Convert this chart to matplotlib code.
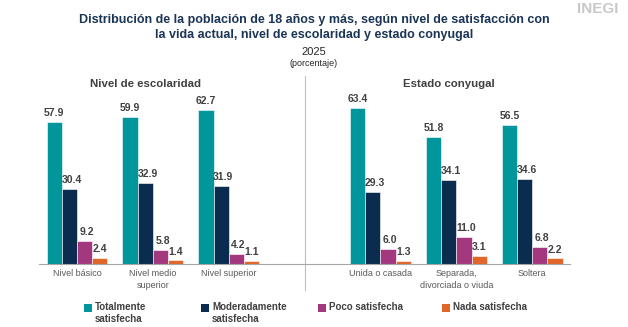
import numpy as np
import matplotlib
matplotlib.use("Agg")
import matplotlib.pyplot as plt
from matplotlib.patches import Rectangle

plt.rcParams['font.family'] = ['Liberation Sans', 'DejaVu Sans']

# data
categories = ["Nivel básico", "Nivel medio\nsuperior", "Nivel superior", "",
              "Unida o casada", "Separada,\ndivorciada o viuda", "Soltera"]
series_names = ["Totalmente\nsatisfecha", "Moderadamente\nsatisfecha",
                "Poco satisfecha", "Nada satisfecha"]
totalmente = [57.9, 59.9, 62.7, None, 63.4, 51.8, 56.5]
moderadamente = [30.4, 32.9, 31.9, None, 29.3, 34.1, 34.6]
poco = [9.2, 5.8, 4.2, None, 6.0, 11.0, 6.8]
nada = [2.4, 1.4, 1.1, None, 1.3, 3.1, 2.2]
panel_titles = ["Nivel de escolaridad", "Estado conyugal"]

colors = ["#00969B", "#0A2C4E", "#A3387F", "#E0662A"]
label_col = "#404040"

W, H = 628, 327
fig = plt.figure(figsize=(W / 100, H / 100), dpi=100)
ax = fig.add_axes([0.062, 0.193, 0.846, 0.526])

x = np.arange(len(categories))
w = 0.2
for i, vals in enumerate([totalmente, moderadamente, poco, nada]):
    xs = [xi for xi, v in zip(x, vals) if v is not None]
    vs = [v for v in vals if v is not None]
    pos = np.array(xs) + (i - 1.5) * w
    ax.bar(pos, vs, width=w, color=colors[i], edgecolor="white", linewidth=0.4)
    shift = 0.03 if i in (1, 2) else 0.0
    for p, v in zip(pos, vs):
        ax.text(p + shift, v + 1.6, f"{v:.1f}", ha="center", va="bottom",
                fontsize=7.5, fontweight="bold", color=label_col)

ax.set_xlim(-0.5, 6.5)
ax.set_ylim(0, 70)
ax.set_yticks([])
ax.set_xticks(x)
ax.set_xticklabels(categories, fontsize=6.5, color="#595959", linespacing=1.4)
ax.tick_params(axis="x", length=0, pad=4)
for s in ["top", "left", "right"]:
    ax.spines[s].set_visible(False)
ax.spines["bottom"].set_color("#A6A6A6")
ax.spines["bottom"].set_linewidth(0.8)

# separator between panels
ax.axvline(3, ymin=-0.15, ymax=1.09, color="#BFBFBF", linewidth=0.8, clip_on=False)

# panel titles
ax.text(0.9, 1.045, panel_titles[0], transform=ax.get_xaxis_transform(),
        ha="center", va="center", fontsize=8.2, fontweight="bold", color=label_col)
ax.text(4.9, 1.045, panel_titles[1], transform=ax.get_xaxis_transform(),
        ha="center", va="center", fontsize=8.2, fontweight="bold", color=label_col)

# titles
fig.text(0.5, 0.917, "Distribución de la población de 18 años y más, según nivel de satisfacción con\n"
         "la vida actual, nivel de escolaridad y estado conyugal",
         ha="center", va="center", fontsize=9, fontweight="bold", color="#1B3556",
         linespacing=1.35)
fig.text(0.5, 0.84, "2025", ha="center", va="center", fontsize=8, color="#262626")
fig.text(0.5, 0.805, "(porcentaje)", ha="center", va="center", fontsize=6.5, color="#262626")
fig.text(0.985, 0.995, "INEGI", ha="right", va="top", fontsize=11, fontweight="bold",
         color="#C8C8C8")

# legend, drawn by hand so that the marker sits on the first text line
leg_x = [84, 201, 318, 442]
leg_y = 308
for name, c, lx in zip(series_names, colors, leg_x):
    fig.add_artist(Rectangle((lx / W, 1 - (leg_y + 4) / H), 8 / W, 8 / H,
                             transform=fig.transFigure, facecolor=c, edgecolor="none"))
    fig.text((lx + 11) / W, 1 - (leg_y - 6) / H, name, ha="left", va="top",
             fontsize=7, fontweight="bold", color=label_col, linespacing=1.25)

fig.savefig("out.png", dpi=100)
